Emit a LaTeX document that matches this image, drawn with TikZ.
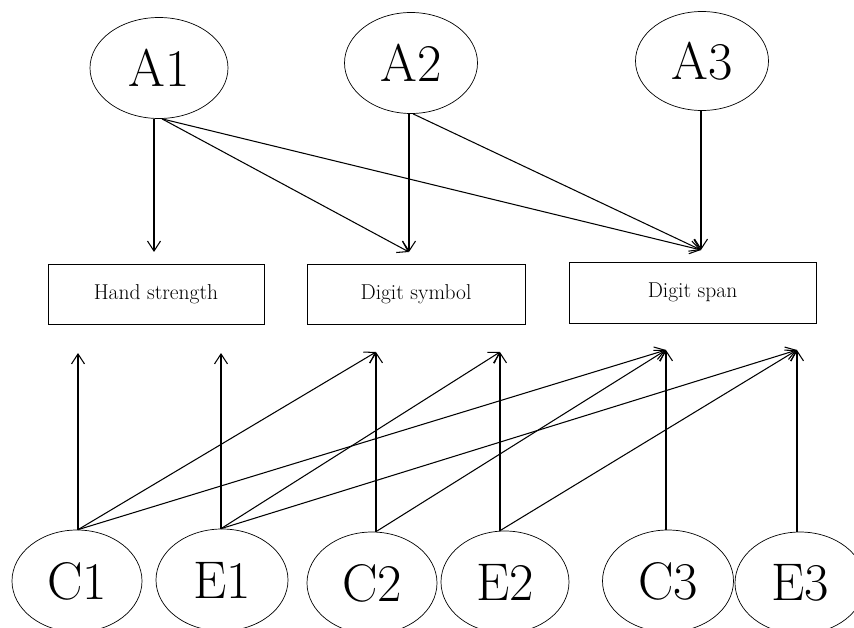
\documentclass[tikz,border=0pt]{standalone}
\usetikzlibrary{shapes.geometric,arrows.meta}
\begin{document}
\begin{tikzpicture}[x=1pt,y=-1pt,
 lat/.style={draw, ellipse, line width=0.7pt, inner sep=0pt, minimum width=132pt, minimum height=101pt, font=\fontsize{53}{53}\selectfont},
 obs/.style={draw, rectangle, line width=0.8pt, inner sep=0pt, minimum height=60pt, font=\fontsize{21.5}{23}\selectfont},
 arr/.style={line width=1.05pt, -{Straight Barb[length=10pt,width=13pt]}}]
\useasboundingbox (0,0) rectangle (854,628);
% latent A factors
\node[lat, minimum width=138pt] (A1) at (159,68) {A1};
\node[lat, minimum width=133pt] (A2) at (411,63) {A2};
\node[lat, minimum width=133pt, minimum height=99pt] (A3) at (702,61) {A3};
% observed
\node[obs, minimum width=216pt] (HS) at (156,294) {Hand strength};
\node[obs, minimum width=218pt] (DS) at (416,294) {Digit symbol};
\node[obs, minimum width=247pt, minimum height=61pt] (DP) at (692.5,292.5) {Digit span};
% latent C/E factors
\node[lat, minimum width=130pt, minimum height=102pt] (C1) at (77,581) {C1};
\node[lat, minimum width=132pt, minimum height=102pt] (E1) at (222,580) {E1};
\node[lat, minimum width=130pt, minimum height=102pt] (C2) at (372,583) {C2};
\node[lat, minimum width=128pt, minimum height=102pt] (E2) at (505,582) {E2};
\node[lat, minimum width=131pt, minimum height=102pt] (C3) at (668,581) {C3};
\node[lat, minimum width=130pt, minimum height=102pt] (E3) at (800,583) {E3};
% arrow tips
\coordinate (tHSa) at (154,252);
\coordinate (tDSa) at (409,252);
\coordinate (tDPa) at (701,250);
\coordinate (tHSc) at (78,353);
\coordinate (tHSe) at (221,353);
\coordinate (tDSc) at (376,352);
\coordinate (tDSe) at (500,352);
\coordinate (tDPc) at (666,350);
\coordinate (tDPe) at (797,350);
% top arrows
\draw[arr] (A1.south -| tHSa) -- (tHSa);
\draw[arr] ([xshift=3pt]A1.south) -- (tDSa);
\draw[arr] ([xshift=3pt]A1.south) -- (tDPa);
\draw[arr] (A2.south -| tDSa) -- (tDSa);
\draw[arr] ([xshift=2pt]A2.south) -- (tDPa);
\draw[arr] (A3.south -| tDPa) -- (tDPa);
% bottom arrows
\draw[arr] (C1.north -| tHSc) -- (tHSc);
\draw[arr] (C1.north -| tHSc) -- (tDSc);
\draw[arr] (C1.north -| tHSc) -- (tDPc);
\draw[arr] (E1.north -| tHSe) -- (tHSe);
\draw[arr] (E1.north -| tHSe) -- (tDSe);
\draw[arr] (E1.north -| tHSe) -- (tDPe);
\draw[arr] (C2.north -| tDSc) -- (tDSc);
\draw[arr] (C2.north -| tDSc) -- (tDPc);
\draw[arr] (E2.north -| tDSe) -- (tDSe);
\draw[arr] (E2.north -| tDSe) -- (tDPe);
\draw[arr] (C3.north -| tDPc) -- (tDPc);
\draw[arr] (E3.north -| tDPe) -- (tDPe);
\end{tikzpicture}
\end{document}
